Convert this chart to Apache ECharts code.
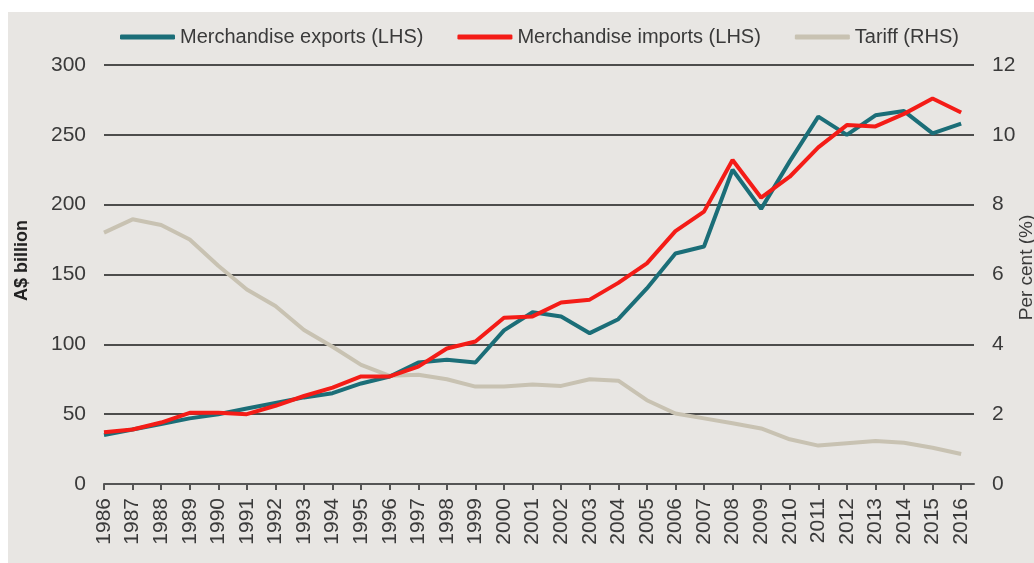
<!DOCTYPE html>
<html>
<head>
<meta charset="utf-8">
<script src="https://cdn.jsdelivr.net/npm/echarts@6/dist/echarts.min.js"></script>
<style>
  html, body { margin: 0; padding: 0; background: #ffffff; }
  #panel { position: absolute; left: 8px; top: 12px; width: 1026px; height: 551px; background: #e8e6e3; }
</style>
</head>
<body>
<div id="panel"></div>
<script>
// years on the x axis
var years = [1986, 1987, 1988, 1989, 1990, 1991, 1992, 1993, 1994, 1995, 1996,
  1997, 1998, 1999, 2000, 2001, 2002, 2003, 2004, 2005, 2006, 2007, 2008, 2009,
  2010, 2011, 2012, 2013, 2014, 2015, 2016]
// A$ billion (LHS)
var exportsVals = [35, 39, 43, 47, 50, 54, 58, 62, 65, 72, 77, 87, 89, 87, 110, 123,
  120, 108, 118, 140, 165, 170, 225, 197, 231, 263, 250, 264, 267, 251, 258]
var importsVals = [37, 39, 44, 51, 51, 50, 56, 63, 69, 77, 77, 84, 97, 102, 119, 120,
  130, 132, 144, 158, 181, 195, 232, 205, 220, 241, 257, 256, 265, 276, 266]
// per cent (RHS)
var tariffVals = [7.2, 7.58, 7.42, 7.0, 6.25, 5.57, 5.1, 4.41, 3.93, 3.41, 3.1, 3.13,
  3.0, 2.79, 2.79, 2.85, 2.81, 3.0, 2.96, 2.4, 2.02, 1.88, 1.74, 1.59, 1.28, 1.1,
  1.17, 1.23, 1.18, 1.04, 0.86]
var leftTicks = { min: 0, max: 300, interval: 50 }
var rightTicks = { min: 0, max: 12, interval: 2 }

function pairs (vals) {
  return years.map(function (y, i) { return [y, vals[i]] })
}

var font = 'Liberation Sans, Arial, sans-serif'
var chart = echarts.init(document.getElementById('panel'))
chart.setOption({
  textStyle: { fontFamily: font },
  animation: false,
  legend: {
    top: 10,
    left: 107,
    icon: 'roundRect',
    itemWidth: 55,
    itemHeight: 5,
    itemGap: 34,
    textStyle: { fontSize: 20, color: '#3a3a3a', fontFamily: font },
    data: ['Merchandise exports (LHS)', 'Merchandise imports (LHS)', 'Tariff (RHS)']
  },
  grid: { left: 96, right: 60, top: 53, bottom: 79, outerBoundsMode: 'none' },
  xAxis: {
    type: 'value',
    min: 1986,
    max: 2016.45,
    interval: 1,
    splitLine: { show: false },
    axisLine: { show: true, onZero: false, lineStyle: { color: '#555555', width: 2 } },
    axisTick: { show: true, length: 6, customValues: years, lineStyle: { color: '#555555', width: 2 } },
    axisLabel: {
      customValues: years,
      rotate: 90,
      margin: 14,
      fontSize: 21,
      color: '#3a3a3a',
      formatter: function (v) { return String(v) }
    }
  },
  yAxis: [
    {
      type: 'value',
      min: leftTicks.min,
      max: leftTicks.max,
      interval: leftTicks.interval,
      name: 'A$ billion',
      nameLocation: 'middle',
      nameRotate: 90,
      nameGap: 73,
      nameMoveOverlap: false,
      nameTextStyle: { fontSize: 18, fontWeight: 'bold', color: '#222222', padding: [0, 0, 0, 28] },
      axisLine: { show: false },
      axisTick: { show: false },
      axisLabel: { margin: 18, fontSize: 21, color: '#3a3a3a' },
      splitLine: { lineStyle: { color: '#1a1a1a', width: 1.5 } }
    },
    {
      type: 'value',
      position: 'right',
      min: rightTicks.min,
      max: rightTicks.max,
      interval: rightTicks.interval,
      name: 'Per cent (%)',
      nameLocation: 'middle',
      nameRotate: 90,
      nameGap: 43,
      nameMoveOverlap: false,
      nameTextStyle: { fontSize: 19, color: '#3a3a3a', padding: [0, 0, 0, 14] },
      axisLine: { show: false },
      axisTick: { show: false },
      axisLabel: { margin: 18, fontSize: 21, color: '#3a3a3a' },
      splitLine: { show: false }
    }
  ],
  series: [
    {
      name: 'Merchandise exports (LHS)',
      type: 'line',
      yAxisIndex: 0,
      symbol: 'none',
      z: 3,
      itemStyle: { color: '#1b6e78' },
      lineStyle: { color: '#1b6e78', width: 4 },
      data: pairs(exportsVals)
    },
    {
      name: 'Merchandise imports (LHS)',
      type: 'line',
      yAxisIndex: 0,
      symbol: 'none',
      z: 3,
      itemStyle: { color: '#f41c17' },
      lineStyle: { color: '#f41c17', width: 4 },
      data: pairs(importsVals)
    },
    {
      name: 'Tariff (RHS)',
      type: 'line',
      yAxisIndex: 1,
      symbol: 'none',
      z: 2,
      itemStyle: { color: '#c8c2b2' },
      lineStyle: { color: '#c8c2b2', width: 4 },
      data: pairs(tariffVals)
    }
  ]
})
</script>
</body>
</html>
